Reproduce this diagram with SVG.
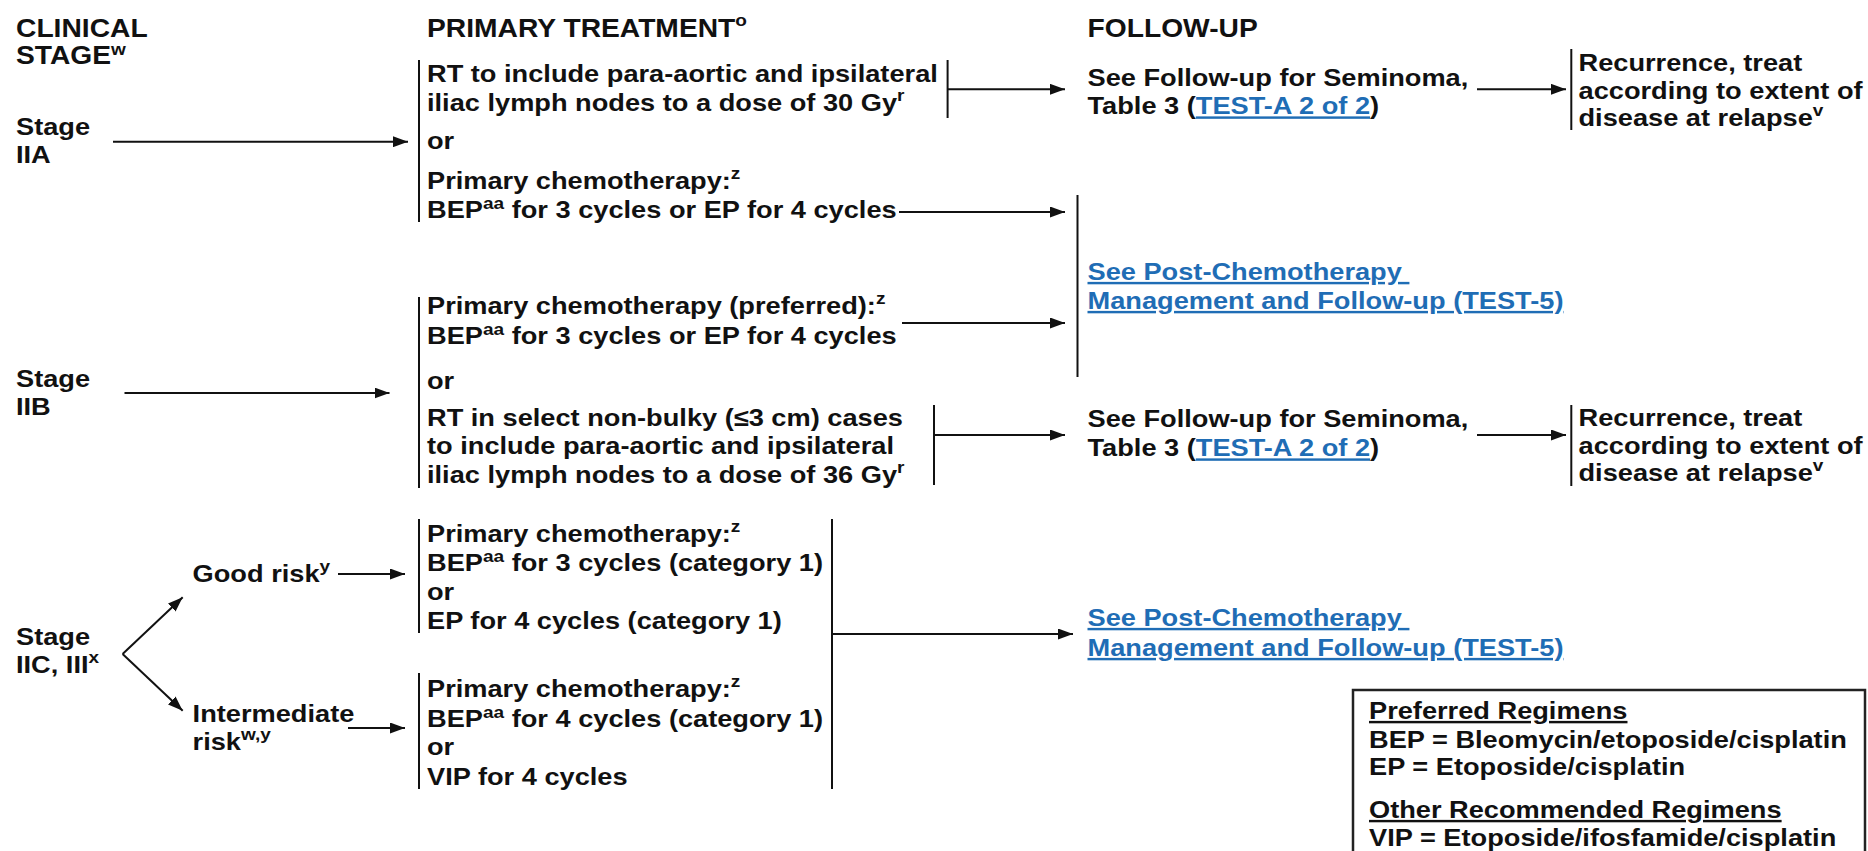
<svg xmlns="http://www.w3.org/2000/svg" width="1868" height="851" viewBox="0 0 1868 851">
<style>
.t{font-family:"Liberation Sans",Arial,sans-serif;font-weight:bold;font-size:24.3px;fill:#111}
.h{font-size:25.2px}
.sup{font-size:17px}
.lk{fill:#1f6db5;text-decoration:underline}
.ul{text-decoration:underline}
.ln{stroke:#111;stroke-width:2;fill:none}
.ar{stroke:#111;stroke-width:2;fill:none;marker-end:url(#ah)}
</style>
<defs>
<marker id="ah" viewBox="0 0 15 11" refX="15" refY="5.5" markerWidth="15" markerHeight="11" markerUnits="userSpaceOnUse" orient="auto"><path d="M0,0 L15,5.5 L0,11 Z" fill="#111"/></marker>
</defs>
<rect width="1868" height="851" fill="#fff"/>

<g id="connectors">
<path class="ar" d="M113,141.7 H408"/>
<path class="ar" d="M124.5,393 H389.5"/>
<path class="ar" d="M122.6,654 L182.7,597.3"/>
<path class="ar" d="M122.6,654 L182.7,710.7"/>
<path class="ar" d="M338,574 H405"/>
<path class="ar" d="M348,728 H405"/>
<path class="ar" d="M947.6,89.3 H1065"/>
<path class="ar" d="M1477,89.3 H1566"/>
<path class="ar" d="M899,212 H1065"/>
<path class="ar" d="M902,323 H1065"/>
<path class="ar" d="M934,435 H1065"/>
<path class="ar" d="M1477,435 H1566"/>
<path class="ln" d="M832,519 V789"/>
<path class="ar" d="M832,634 H1073"/>
</g>

<g id="header-clinical-stage" transform="translate(16,0) scale(1.12,1)">
<text class="t h" x="0" y="37">CLINICAL</text>
<text class="t h" x="0" y="64">STAGE<tspan class="sup" dy="-9">w</tspan></text>
</g>
<g id="header-primary-treatment" transform="translate(427,0) scale(1.12,1)">
<text class="t h" x="0" y="37">PRIMARY TREATMENT<tspan class="sup" dy="-11">o</tspan></text>
</g>
<g id="header-follow-up" transform="translate(1087.5,0) scale(1.12,1)">
<text class="t h" x="0" y="37">FOLLOW-UP</text>
</g>

<g id="stage-iia" transform="translate(16,0) scale(1.12,1)">
<text class="t" x="0" y="135">Stage</text>
<text class="t" x="0" y="163">IIA</text>
</g>
<g id="stage-iib" transform="translate(16,0) scale(1.12,1)">
<text class="t" x="0" y="387">Stage</text>
<text class="t" x="0" y="415">IIB</text>
</g>
<g id="stage-iic-iii" transform="translate(16,0) scale(1.12,1)">
<text class="t" x="0" y="645">Stage</text>
<text class="t" x="0" y="673">IIC, III<tspan class="sup" dy="-10">x</tspan></text>
</g>
<g id="good-risk" transform="translate(192.6,0) scale(1.12,1)">
<text class="t" x="0" y="582">Good risk<tspan class="sup" dy="-10">y</tspan></text>
</g>
<g id="intermediate-risk" transform="translate(192.6,0) scale(1.12,1)">
<text class="t" x="0" y="722">Intermediate</text>
<text class="t" x="0" y="750">risk<tspan class="sup" dy="-10">w,y</tspan></text>
</g>

<g id="iia-treatment">
<path class="ln" d="M419,60 V222"/>
<path class="ln" d="M947.6,60 V118"/>
<g transform="translate(427,0) scale(1.12,1)">
<text class="t" x="0" y="82">RT to include para-aortic and ipsilateral</text>
<text class="t" x="0" y="111">iliac lymph nodes to a dose of 30 Gy<tspan class="sup" dy="-10">r</tspan></text>
<text class="t" x="0" y="149">or</text>
<text class="t" x="0" y="189">Primary chemotherapy:<tspan class="sup" dy="-10">z</tspan></text>
<text class="t" x="0" y="218">BEP<tspan class="sup" dy="-9">aa</tspan><tspan dy="9"> for 3 cycles or EP for 4 cycles</tspan></text>
</g>
</g>

<g id="iib-treatment">
<path class="ln" d="M419,297 V488"/>
<path class="ln" d="M934,405 V485"/>
<g transform="translate(427,0) scale(1.12,1)">
<text class="t" x="0" y="314">Primary chemotherapy (preferred):<tspan class="sup" dy="-10">z</tspan></text>
<text class="t" x="0" y="344">BEP<tspan class="sup" dy="-9">aa</tspan><tspan dy="9"> for 3 cycles or EP for 4 cycles</tspan></text>
<text class="t" x="0" y="389">or</text>
<text class="t" x="0" y="426">RT in select non-bulky (≤3 cm) cases</text>
<text class="t" x="0" y="454.5">to include para-aortic and ipsilateral</text>
<text class="t" x="0" y="483">iliac lymph nodes to a dose of 36 Gy<tspan class="sup" dy="-10">r</tspan></text>
</g>
</g>

<g id="good-risk-chemo">
<path class="ln" d="M419,519 V633"/>
<g transform="translate(427,0) scale(1.12,1)">
<text class="t" x="0" y="542">Primary chemotherapy:<tspan class="sup" dy="-10">z</tspan></text>
<text class="t" x="0" y="571">BEP<tspan class="sup" dy="-9">aa</tspan><tspan dy="9"> for 3 cycles (category 1)</tspan></text>
<text class="t" x="0" y="600">or</text>
<text class="t" x="0" y="629.5">EP for 4 cycles (category 1)</text>
</g>
</g>

<g id="intermediate-risk-chemo">
<path class="ln" d="M419,673 V789"/>
<g transform="translate(427,0) scale(1.12,1)">
<text class="t" x="0" y="697.5">Primary chemotherapy:<tspan class="sup" dy="-10">z</tspan></text>
<text class="t" x="0" y="727">BEP<tspan class="sup" dy="-9">aa</tspan><tspan dy="9"> for 4 cycles (category 1)</tspan></text>
<text class="t" x="0" y="755">or</text>
<text class="t" x="0" y="785">VIP for 4 cycles</text>
</g>
</g>

<g id="follow-up-seminoma-1" transform="translate(1087.5,0) scale(1.12,1)">
<text class="t" x="0" y="86">See Follow-up for Seminoma,</text>
<text class="t" x="0" y="114.5">Table 3 (<tspan class="lk">TEST-A 2 of 2</tspan>)</text>
</g>
<g id="recurrence-1">
<path class="ln" d="M1571.3,49 V130"/>
<g transform="translate(1578.5,0) scale(1.12,1)">
<text class="t" x="0" y="71">Recurrence, treat</text>
<text class="t" x="0" y="99">according to extent of</text>
<text class="t" x="0" y="126.5">disease at relapse<tspan class="sup" dy="-10">v</tspan></text>
</g>
</g>

<g id="post-chemo-1">
<path class="ln" d="M1077.5,195 V377"/>
<g transform="translate(1087.5,0) scale(1.12,1)">
<text class="t lk" x="0" y="280">See Post-Chemotherapy&#160;</text>
<text class="t lk" x="0" y="309">Management and Follow-up (TEST-5)</text>
</g>
</g>

<g id="follow-up-seminoma-2" transform="translate(1087.5,0) scale(1.12,1)">
<text class="t" x="0" y="427.5">See Follow-up for Seminoma,</text>
<text class="t" x="0" y="456.5">Table 3 (<tspan class="lk">TEST-A 2 of 2</tspan>)</text>
</g>
<g id="recurrence-2">
<path class="ln" d="M1571.3,405 V486"/>
<g transform="translate(1578.5,0) scale(1.12,1)">
<text class="t" x="0" y="426">Recurrence, treat</text>
<text class="t" x="0" y="454">according to extent of</text>
<text class="t" x="0" y="481.5">disease at relapse<tspan class="sup" dy="-10">v</tspan></text>
</g>
</g>

<g id="post-chemo-2" transform="translate(1087.5,0) scale(1.12,1)">
<text class="t lk" x="0" y="626">See Post-Chemotherapy&#160;</text>
<text class="t lk" x="0" y="656">Management and Follow-up (TEST-5)</text>
</g>

<g id="legend">
<rect x="1353" y="690" width="512" height="200" fill="none" stroke="#222" stroke-width="2.5"/>
<g transform="translate(1369,0) scale(1.12,1)">
<text class="t ul" x="0" y="719">Preferred Regimens</text>
<text class="t" x="0" y="748">BEP = Bleomycin/etoposide/cisplatin</text>
<text class="t" x="0" y="775">EP = Etoposide/cisplatin</text>
<text class="t ul" x="0" y="818">Other Recommended Regimens</text>
<text class="t" x="0" y="846">VIP = Etoposide/ifosfamide/cisplatin</text>
</g>
</g>
</svg>
